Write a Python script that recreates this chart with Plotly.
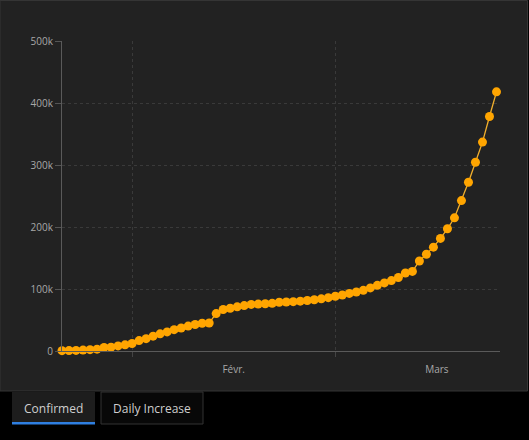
import plotly.graph_objects as go
import pandas as pd

dates = pd.date_range("2020-01-22", "2020-03-24", freq="D").strftime("%Y-%m-%d").tolist()
confirmed = [
    555, 654, 941, 1434, 2118, 2927, 5578, 6166, 8234, 9927,
    12038, 16787, 19881, 23892, 27635, 30794, 34391, 37120, 40150, 42762,
    44802, 45221, 60368, 66885, 69030, 71224, 73258, 75136, 75639, 76197,
    76819, 78572, 78958, 79561, 80406, 81388, 82746, 84112, 86011,
    88369, 90306, 92840, 95120, 97886, 101800, 105847, 109821, 113590, 118620,
    125875, 128352, 145205, 156101, 167454, 181574, 197102, 214821, 242570,
    272208, 304507, 336953, 378235, 418045,
]
tab_labels = ["Confirmed", "Daily Increase"]
month_alias = {"Jan": "Janv.", "Feb": "Févr.", "Mar": "Mars"}

W, H = 529, 440
L, R, T, B = 62, 29, 41, 89
PW, PH = W - L - R, H - T - B


def px(x):
    return (x - L) / PW


def py(y):
    return (H - B - y) / PH


fig = go.Figure()
fig.add_trace(go.Scatter(
    x=dates, y=confirmed, mode="lines+markers",
    line=dict(color="#F2B02E", width=1.3),
    marker=dict(color="#FFA500", size=9),
    cliponaxis=False, showlegend=False,
))

shapes = [
    # chart panel
    dict(type="rect", xref="paper", yref="paper", x0=px(0), x1=px(527.5), y0=py(391), y1=py(0.5),
         fillcolor="#222222", line=dict(color="#353535", width=1), layer="below"),
    # Confirmed tab
    dict(type="rect", xref="paper", yref="paper", x0=px(12), x1=px(95), y0=py(424), y1=py(392),
         fillcolor="#1d1d1d", line=dict(width=0), layer="below"),
    dict(type="rect", xref="paper", yref="paper", x0=px(12), x1=px(95), y0=py(424.5), y1=py(422),
         fillcolor="#2f7fe0", line=dict(width=0), layer="below"),
    # Daily Increase tab
    dict(type="rect", xref="paper", yref="paper", x0=px(101), x1=px(203), y0=py(424), y1=py(392),
         fillcolor="#080808", line=dict(color="#333333", width=1), layer="below"),
]

annotations = [
    dict(text=tab_labels[0], xref="paper", yref="paper", x=px(53.5), y=py(408), showarrow=False,
         font=dict(color="#cfcfcf", size=12, family="Open Sans"), xanchor="center", yanchor="middle"),
    dict(text=tab_labels[1], xref="paper", yref="paper", x=px(152), y=py(408), showarrow=False,
         font=dict(color="#cfcfcf", size=12, family="Open Sans"), xanchor="center", yanchor="middle"),
]

fig.update_layout(
    width=W, height=H,
    margin=dict(l=L, r=R, t=T, b=B, autoexpand=False),
    paper_bgcolor="#000000", plot_bgcolor="rgba(0,0,0,0)",
    font=dict(family="Open Sans", color="#a8a8a8", size=10),
    shapes=shapes, annotations=annotations,
    xaxis=dict(
        range=["2020-01-22", "2020-03-24 12:00"],
        dtick="M1", tickformat="%b", ticklabelmode="period", labelalias=month_alias,
        showgrid=True, gridcolor="#3a3a3a", griddash="dot", gridwidth=1,
        showline=True, linecolor="#5a5a5a", linewidth=1,
        ticks="outside", ticklen=5, tickcolor="#444444", ticklabelstandoff=4,
        tickfont=dict(size=10, color="#a8a8a8"), zeroline=False,
    ),
    yaxis=dict(
        range=[0, 500000], dtick=100000, tickformat="~s",
        showgrid=True, gridcolor="#3a3a3a", griddash="dot", gridwidth=1,
        showline=True, linecolor="#5a5a5a", linewidth=1,
        ticks="outside", ticklen=6, tickcolor="#555555",
        tickfont=dict(size=10, color="#a8a8a8"), zeroline=False,
    ),
)

fig.write_html(
    "out.html",
    config={"displayModeBar": False},
    post_script="document.body.style.margin='0';document.body.style.background='#000';",
)
